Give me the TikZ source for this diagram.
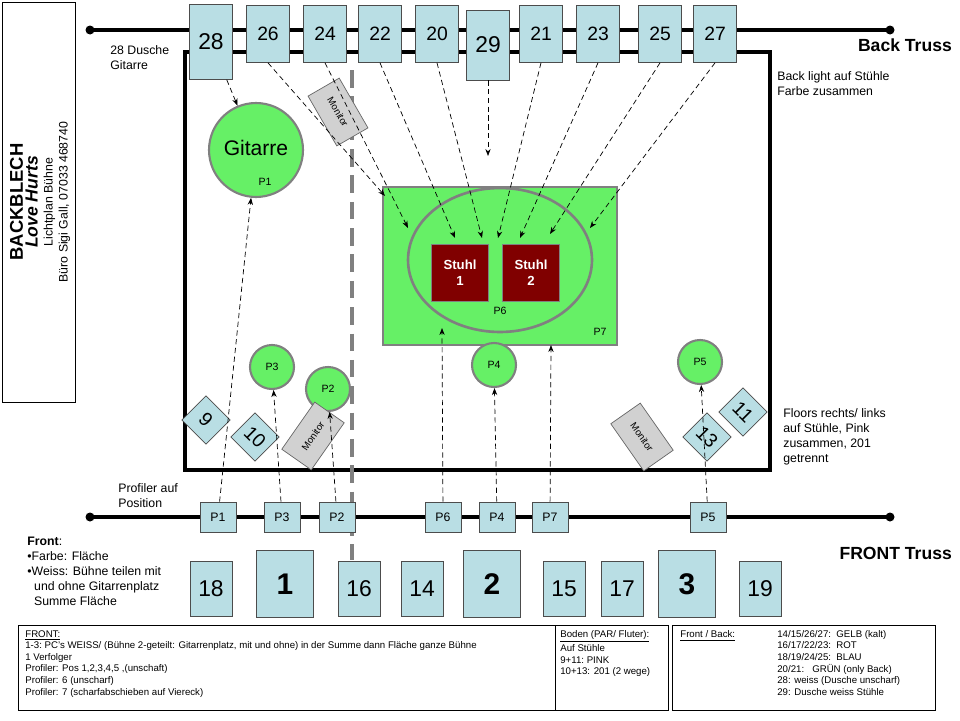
\documentclass[tikz,border=0pt]{standalone}
\usepackage{fontspec}
\setmainfont{Liberation Sans}
\usetikzlibrary{arrows.meta,shapes.geometric}
\definecolor{lampblue}{RGB}{185,222,228}
\definecolor{stagegreen}{RGB}{102,240,102}
\tikzset{
  lamp/.style={draw=black!70,fill=lampblue,minimum width=0.86cm,minimum height=1.14cm,font=\fontsize{11}{11}\selectfont,inner sep=0pt},
  profpos/.style={draw=black!70,fill=lampblue,minimum width=0.72cm,minimum height=0.6cm,font=\fontsize{7}{7}\selectfont,inner sep=0pt},
  dia/.style={draw=black!70,fill=lampblue,minimum size=0.68cm,rotate=45,font=\fontsize{11}{11}\selectfont,inner sep=0pt},
  spot/.style={circle,draw=gray,line width=1.2pt,fill=stagegreen,minimum size=0.88cm,font=\fontsize{6}{6}\selectfont,inner sep=0pt},
  mon/.style={draw=black!60,fill=black!18,minimum width=1.15cm,minimum height=0.72cm,font=\fontsize{5.5}{5.5}\selectfont,inner sep=0pt},
  beam/.style={densely dashed,-{Stealth[length=4pt]},thin},
  txt/.style={align=left,anchor=north west,font=\fontsize{7}{8.5}\selectfont,inner sep=0pt}
}
\begin{document}
\begin{tikzpicture}[x=0.02cm,y=-0.02cm]
\useasboundingbox (0,0) rectangle (960,720);
% title box
\draw (2,2) rectangle (75,402);
\node[rotate=90,align=center,font=\fontsize{7}{8.5}\selectfont] at (40,202)
  {{\fontsize{10.5}{12}\selectfont\bfseries BACKBLECH}\\{\fontsize{10}{11}\selectfont\bfseries\itshape Love Hurts}\\Lichtplan Bühne\\Büro Sigi Gall, 07033 468740};
% trusses
\draw[line width=1.8pt] (90,30) -- (890,30);
\fill (90,30) circle (4.5) (890,30) circle (4.5);
\draw[line width=1.8pt] (90,517) -- (890,517);
\fill (90,517) circle (4.5) (890,517) circle (4.5);
% stage
\draw[line width=1.8pt] (185,52) rectangle (770,470);
\draw[gray,line width=2.5pt,dash pattern=on 10pt off 5pt] (352,70) -- (352,560);
% stage objects
\node[draw=gray,line width=1.2pt,fill=stagegreen,minimum width=4.68cm,minimum height=3.16cm] (p7) at (500,266) {};
\node[font=\fontsize{6}{6}\selectfont] at (600,332) {P7};
\node[ellipse,draw=gray,line width=1.5pt,minimum width=3.68cm,minimum height=2.88cm] (p6) at (500,260) {};
\node[font=\fontsize{6}{6}\selectfont] at (500,311) {P6};
\node[fill=red!50!black,draw=gray,minimum size=1.14cm,text=white,align=center,font=\fontsize{7.5}{9}\selectfont\bfseries] (s1) at (460,273) {Stuhl\\1};
\node[fill=red!50!black,draw=gray,minimum size=1.14cm,text=white,align=center,font=\fontsize{7.5}{9}\selectfont\bfseries] (s2) at (531,273) {Stuhl\\2};
\node[spot,minimum size=1.88cm] (git) at (256,150) {};
\node[font=\fontsize{12}{12}\selectfont] at (256,148) {Gitarre};
\node[font=\fontsize{6}{6}\selectfont] at (265,182) {P1};
\node[spot] (c3) at (272,367) {P3};
\node[spot] (c2) at (328,389) {P2};
\node[spot] (c4) at (494,365) {P4};
\node[spot] (c5) at (700,362) {P5};
\node[mon,rotate=-60] at (338,112) {Monitor};
\node[mon,rotate=55] at (313,436) {Monitor};
\node[mon,rotate=-55] at (642,437) {Monitor};
\node[dia] (d9) at (206,420) {\rotatebox{-90}{9}};
\node[dia] (d10) at (255,437) {\rotatebox{-90}{10}};
\node[dia] (d13) at (707,437) {\rotatebox{-90}{13}};
\node[dia] (d11) at (743,412) {\rotatebox{-90}{11}};
% back truss lamps
\node[lamp,minimum height=1.5cm,font=\fontsize{13}{13}\selectfont] (b28) at (211,42) {28};
\node[lamp,minimum height=1.4cm,font=\fontsize{13}{13}\selectfont] (b29) at (488,45) {29};
\foreach \n/\x in {26/268,24/325,22/380,20/437,21/541,23/598,25/660,27/715}
  \node[lamp] (b\n) at (\x,34) {\n};
\coordinate (t26) at (385,196);
\coordinate (t24) at (408,228);
\coordinate (t22) at (455,238);
\coordinate (t20) at (482,238);
\coordinate (t29) at (488,156);
\coordinate (t21) at (498,238);
\coordinate (t23) at (520,238);
\coordinate (t25) at (550,234);
\coordinate (t27) at (590,228);
\draw[beam] (b28) -- (git);
\foreach \n in {26,24,22,20,29,21,23,25,27}
  \draw[beam] (b\n.south) -- (t\n);
% profiler positions
\foreach \n/\x in {1/218,3/282,2/337,6/443,4/497,7/550,5/708}
  \node[profpos] (f\n) at (\x,517) {P\n};
\coordinate (t6) at (442,328);
\coordinate (t7) at (551,345);
\draw[beam] (f1) -- (git);
\draw[beam] (f3) -- (c3);
\draw[beam] (f2) -- (c2);
\draw[beam] (f6) -- (t6);
\draw[beam] (f4) -- (c4);
\draw[beam] (f7) -- (t7);
\draw[beam] (f5) -- (c5);
% front truss
\foreach \n/\x in {18/211,16/359,14/422,15/564,17/622,19/760}
  \node[lamp,minimum width=0.84cm,minimum height=1.1cm,font=\fontsize{13}{13}\selectfont] (v\n) at (\x,589) {\n};
\foreach \n/\x in {1/285,2/492,3/687}
  \node[lamp,minimum width=1.14cm,minimum height=1.34cm,font=\fontsize{17}{17}\selectfont\bfseries] (v\n) at (\x,584) {\n};
% labels
\node[txt] at (110,45) {28 Dusche\\Gitarre};
\node[txt] at (777,71) {Back light auf Stühle\\Farbe zusammen};
\node[txt] at (783,408) {Floors rechts/ links\\auf Stühle, Pink\\zusammen, 201\\getrennt};
\node[txt] at (118,483) {Profiler auf\\Position};
\node[anchor=east,font=\fontsize{10}{10}\selectfont\bfseries] at (958,45) {Back Truss};
\node[anchor=east,font=\fontsize{10}{10}\selectfont\bfseries] at (958,553) {FRONT Truss};
\node[txt] at (27,537) {{\bfseries Front}:\\\textbullet Farbe: Fläche\\\textbullet Weiss: Bühne teilen mit\\\ \ und ohne Gitarrenplatz\\\ \ Summe Fläche};
% legend
\draw (18,625) rectangle (555,710);
\draw (555,625) rectangle (668,710);
\draw (672,625) rectangle (935,710);
\node[txt,font=\fontsize{5.5}{6.6}\selectfont] at (25,630) {\underline{FRONT:}\\1-3:\ PC's WEISS/ (Bühne 2-geteilt: Gitarrenplatz, mit und ohne) in der Summe dann Fläche ganze Bühne\\1 Verfolger\\Profiler: Pos 1,2,3,4,5 ,(unschaft)\\Profiler: 6 (unscharf)\\Profiler: 7 (scharfabschieben auf Viereck)};
\node[txt,font=\fontsize{5.5}{6.6}\selectfont] at (560,630) {\underline{Boden (PAR/ Fluter):}\\Auf Stühle\\9+11:\ PINK\\10+13: 201 (2 wege)};
\node[txt,font=\fontsize{5.5}{6.6}\selectfont] at (680,630) {\underline{Front / Back:}};
\node[txt,font=\fontsize{5.5}{6.6}\selectfont] at (777,630) {14/15/26/27:\ \ GELB\ (kalt)\\16/17/22/23:\ \ ROT\\18/19/24/25:\ \ BLAU\\20/21:\ \ \ GRÜN\ (only Back)\\28: weiss (Dusche unscharf)\\29: Dusche weiss Stühle};
\end{tikzpicture}
\end{document}
